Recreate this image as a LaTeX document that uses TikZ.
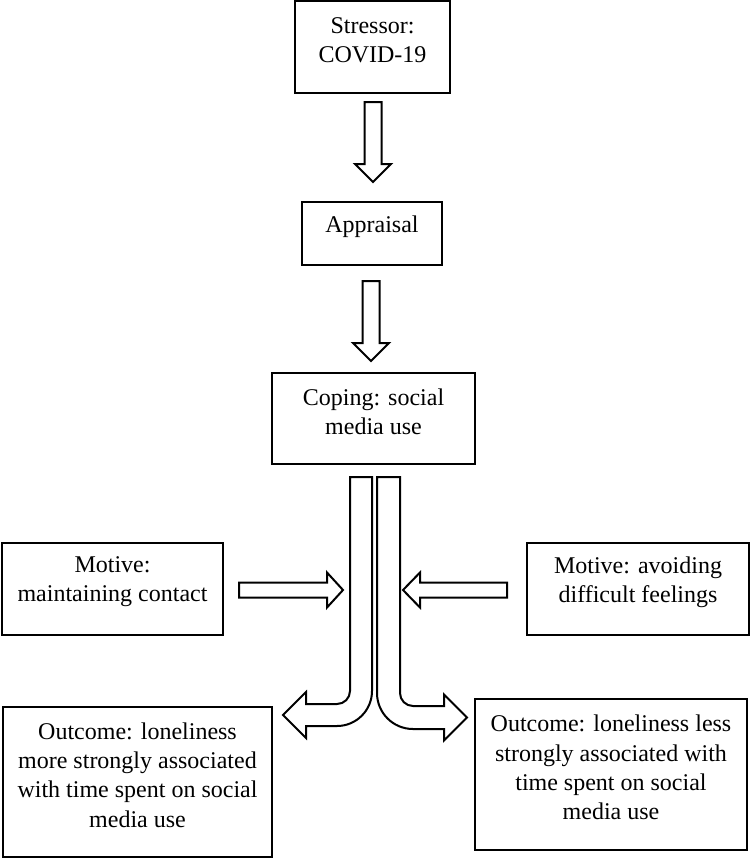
\documentclass[tikz,border=0pt]{standalone}
\usepackage{fontspec}
\setmainfont{Liberation Serif}
\begin{document}
\begin{tikzpicture}[x=0.5pt, y=-0.5pt,
    box/.style={draw, line width=1pt, inner sep=0pt},
    txt/.style={align=center, font=\fontsize{12}{14.6}\selectfont, yshift=3.5pt},
    blockarrow/.style={draw, line width=1pt, fill=white, line join=miter}]
    \useasboundingbox (0,0) rectangle (750,859);

    % Boxes
    \node[box, minimum width=77.5pt, minimum height=46pt] (stressor) at (372.5,47) {};
    \node[box, minimum width=70pt, minimum height=31.5pt] (appraisal) at (372,233.5) {};
    \node[box, minimum width=101.5pt, minimum height=45.5pt] (coping) at (373.5,418.5) {};
    \node[box, minimum width=110.5pt, minimum height=46pt] (contact) at (112.5,589) {};
    \node[box, minimum width=111pt, minimum height=46pt] (avoid) at (638,589) {};
    \node[box, minimum width=134.5pt, minimum height=75pt] (more) at (137.5,782) {};
    \node[box, minimum width=136pt, minimum height=75.5pt] (less) at (611,774.5) {};

    % Box texts
    \node[txt] (stressor-t) at (stressor.center) {Stressor:\\COVID-19};
    \node[txt] (appraisal-t) at (appraisal.center) {Appraisal};
    \node[txt] (coping-t) at (coping.center) {Coping: social\\media use};
    \node[txt] (contact-t) at (contact.center) {Motive:\\maintaining contact};
    \node[txt] (avoid-t) at (avoid.center) {Motive: avoiding\\difficult feelings};
    \node[txt] (more-t) at (more.center) {Outcome: loneliness\\more strongly associated\\with time spent on social\\media use};
    \node[txt] (less-t) at (less.center) {Outcome: loneliness less\\strongly associated with\\time spent on social\\media use};

    % Downward arrows
    \draw[blockarrow] (364.5,102) -- (381.5,102) -- (381.5,164) -- (391,164) -- (373,182) -- (355,164) -- (364.5,164) -- cycle;
    \draw[blockarrow] (362.5,281) -- (379.5,281) -- (379.5,343) -- (389,343) -- (371,361) -- (353,343) -- (362.5,343) -- cycle;

    % Motive arrows
    \draw[blockarrow] (239,582.5) -- (327,582.5) -- (327,572.5) -- (343,590) -- (327,607.5) -- (327,597.5) -- (239,597.5) -- cycle;
    \draw[blockarrow] (507,582.5) -- (420,582.5) -- (420,572.5) -- (403,590) -- (420,607.5) -- (420,597.5) -- (507,597.5) -- cycle;

    % Split arrows to outcomes
    \draw[blockarrow] (350,477) -- (350,691) .. controls (350,698.2) and (344.2,704) .. (337,704)
        -- (306,704) -- (306,692) -- (283,715) -- (306,738) -- (306,726) -- (337,726)
        .. controls (356.3,726) and (372,710.3) .. (372,691) -- (372,477) -- cycle;
    \draw[blockarrow] (400,477) -- (400,693) .. controls (400,700.2) and (405.8,706) .. (413,706)
        -- (444,706) -- (444,694.5) -- (467,717.5) -- (444,740.5) -- (444,729) -- (413,729)
        .. controls (393.1,729) and (377,712.9) .. (377,693) -- (377,477) -- cycle;
\end{tikzpicture}
\end{document}
